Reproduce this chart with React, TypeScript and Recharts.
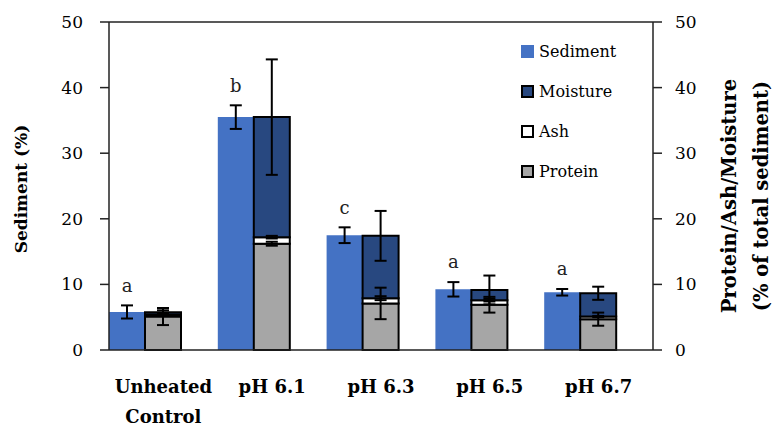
import { BarChart, Bar, XAxis, YAxis, ErrorBar, LabelList, ReferenceLine } from 'recharts';

// values
const categories = ['Unheated\nControl', 'pH 6.1', 'pH 6.3', 'pH 6.5', 'pH 6.7'];
const sediment = [5.8, 35.5, 17.5, 9.25, 8.8];
const sedimentErr = [1.0, 1.8, 1.2, 1.1, 0.5];
const protein = [5.1, 16.2, 7.1, 6.9, 4.7];
const proteinErr = [1.3, 0.3, 2.4, 1.2, 1.0];
const ash = [0.3, 1.0, 0.8, 0.7, 0.4];
const ashErr = [0.1, 0.2, 0.3, 0.2, 0.1];
const moisture = [0.35, 18.3, 9.5, 1.55, 3.55];
const moistureErr = [0.3, 8.8, 3.8, 2.2, 1.0];
const letters = ['a', 'b', 'c', 'a', 'a'];
const yTicks = [0, 10, 20, 30, 40, 50];

const legendItems = [
  { name: 'Sediment', color: '#4472C4', border: false },
  { name: 'Moisture', color: '#284880', border: true },
  { name: 'Ash', color: '#FFFFFF', border: true },
  { name: 'Protein', color: '#A6A6A6', border: true },
];

const data = categories.map((name, i) => ({
  name,
  sediment: sediment[i],
  sedimentErr: sedimentErr[i],
  protein: protein[i],
  proteinErr: proteinErr[i],
  ash: ash[i],
  ashErr: ashErr[i],
  moisture: moisture[i],
  moistureErr: moistureErr[i],
  letter: letters[i],
  spacer: 0,
}));

const FONT = "'DejaVu Serif', serif";

function CategoryTick(props: any) {
  const { x, y, payload } = props;
  const lines = String(payload.value).split('\n');
  return (
    <text x={x} y={y} textAnchor="middle" fill="#000" fontFamily={FONT} fontWeight="bold" fontSize={18}>
      {lines.map((l, i) => (
        <tspan key={i} x={x} dy={i === 0 ? 43 : 30}>{l}</tspan>
      ))}
    </text>
  );
}

function LetterLabel(props: any) {
  const { x, y, width, height, value, index } = props;
  const perUnit = height / sediment[index];
  const top = y - sedimentErr[index] * perUnit - 20;
  return (
    <text x={x + width / 2} y={top} dy="0.35em" textAnchor="middle" fontFamily={FONT} fontSize={18} fill="#222">
      {value}
    </text>
  );
}

function LeftTitle(props: any) {
  const vb = props.viewBox;
  const cx = vb.x - 28;
  const cy = vb.y + vb.height / 2 + 3;
  return (
    <text x={cx} y={cy} transform={`rotate(-90 ${cx} ${cy})`} textAnchor="middle" dy="0.35em"
      fontFamily={FONT} fontWeight="bold" fontSize={17} fill="#000">
      Sediment (%)
    </text>
  );
}

function RightTitle(props: any) {
  const vb = props.viewBox;
  const cy = vb.y + vb.height / 2 + 10;
  const x1 = vb.x + 76;
  const x2 = vb.x + 108;
  return (
    <g fontFamily={FONT} fontWeight="bold" fontSize={19.5} fill="#000">
      <text x={x1} y={cy} transform={`rotate(-90 ${x1} ${cy})`} textAnchor="middle" dy="0.35em">
        Protein/Ash/Moisture
      </text>
      <text x={x2} y={cy} transform={`rotate(-90 ${x2} ${cy})`} textAnchor="middle" dy="0.35em">
        (% of total sediment)
      </text>
    </g>
  );
}

// legend drawn as an overlay so it doesn't eat into the plot area
function LegendBox() {
  return (
    <div style={{ position: 'absolute', left: 521, top: 31, fontFamily: FONT, fontSize: 16, color: '#000' }}>
      {legendItems.map((it) => (
        <div key={it.name} style={{ height: 40, display: 'flex', alignItems: 'center' }}>
          <span style={{
            display: 'inline-block', width: 13, height: 13, marginRight: 5, boxSizing: 'border-box',
            background: it.color, border: it.border ? '2px solid #000' : 'none',
          }} />
          <span>{it.name}</span>
        </div>
      ))}
    </div>
  );
}

export default function App() {
  return (
    <div style={{ position: 'absolute', left: 0, top: 0, width: 780, height: 437, background: '#fff' }}>
      <BarChart
        width={780}
        height={437}
        data={data}
        margin={{ top: 22, right: 67, left: 49, bottom: 27 }}
        barCategoryGap={0}
        barGap={0}
        style={{ fontFamily: FONT }}
      >
        <XAxis dataKey="name" height={60} tickSize={0} tickMargin={0}
          tick={<CategoryTick />} axisLine={{ stroke: '#222', strokeWidth: 1.5 }} tickLine={false} interval={0} />
        <YAxis yAxisId="left" domain={[0, 50]} ticks={yTicks} width={60} tickSize={9} tickMargin={17}
          axisLine={{ stroke: '#222', strokeWidth: 1.5 }} tickLine={{ stroke: '#222', strokeWidth: 1.5 }}
          tick={{ fill: '#000', fontSize: 17, fontFamily: FONT }} label={{ content: <LeftTitle /> }} />
        <YAxis yAxisId="right" orientation="right" domain={[0, 50]} ticks={yTicks} width={60} tickSize={9}
          tickMargin={13} axisLine={{ stroke: '#222', strokeWidth: 1.5 }} tickLine={{ stroke: '#222', strokeWidth: 1.5 }}
          tick={{ fill: '#000', fontSize: 17, fontFamily: FONT }} label={{ content: <RightTitle /> }} />
        <ReferenceLine yAxisId="left" y={50} stroke="#222" strokeWidth={1.5} />

        <Bar dataKey="sediment" yAxisId="left" stackId="sed" fill="#4472C4" isAnimationActive={false}>
          <ErrorBar dataKey="sedimentErr" width={6} strokeWidth={2} stroke="#000" direction="y" />
          <LabelList dataKey="letter" content={<LetterLabel />} />
        </Bar>
        <Bar dataKey="protein" yAxisId="right" stackId="comp" fill="#A6A6A6" stroke="#000" strokeWidth={2}
          isAnimationActive={false}>
          <ErrorBar dataKey="proteinErr" width={6} strokeWidth={2} stroke="#000" direction="y" />
        </Bar>
        <Bar dataKey="ash" yAxisId="right" stackId="comp" fill="#FFFFFF" stroke="#000" strokeWidth={2}
          isAnimationActive={false}>
          <ErrorBar dataKey="ashErr" width={6} strokeWidth={2} stroke="#000" direction="y" />
        </Bar>
        <Bar dataKey="moisture" yAxisId="right" stackId="comp" fill="#284880" stroke="#000" strokeWidth={2}
          isAnimationActive={false}>
          <ErrorBar dataKey="moistureErr" width={6} strokeWidth={2} stroke="#000" direction="y" />
        </Bar>
        <Bar dataKey="spacer" yAxisId="left" stackId="pad" fill="none" isAnimationActive={false} />
      </BarChart>
      <LegendBox />
    </div>
  );
}
